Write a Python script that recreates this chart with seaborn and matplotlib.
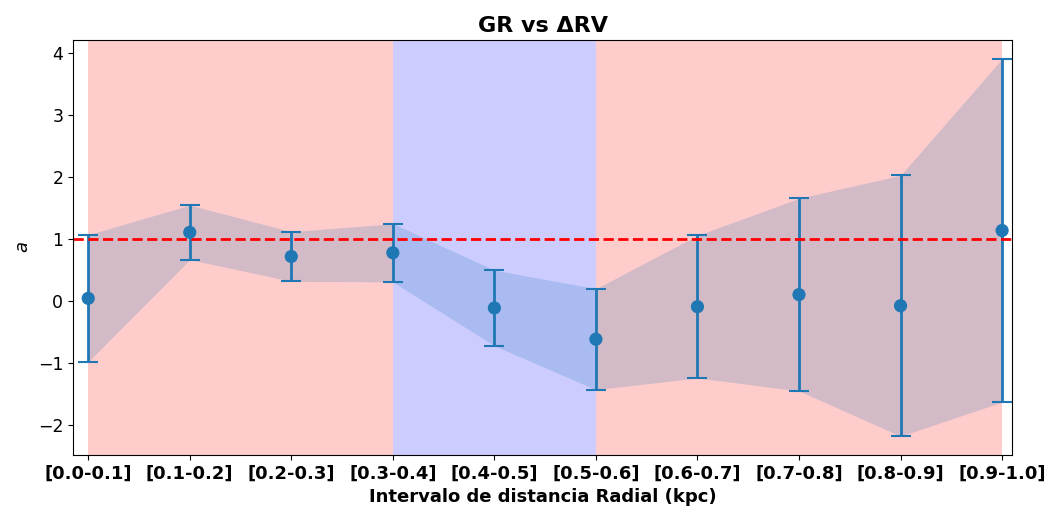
import numpy as np
import pandas as pd
import matplotlib
matplotlib.use('Agg')
import matplotlib.pyplot as plt
import seaborn as sns

intervals = ['[0.0-0.1]', '[0.1-0.2]', '[0.2-0.3]', '[0.3-0.4]', '[0.4-0.5]',
             '[0.5-0.6]', '[0.6-0.7]', '[0.7-0.8]', '[0.8-0.9]', '[0.9-1.0]']
a_vals = [0.045, 1.11, 0.72, 0.78, -0.11, -0.615, -0.09, 0.105, -0.075, 1.14]
a_err = [1.025, 0.44, 0.40, 0.47, 0.61, 0.815, 1.15, 1.555, 2.105, 2.77]

sns.set_style('ticks', {'axes.edgecolor': 'black', 'text.color': 'black',
                        'xtick.color': 'black', 'ytick.color': 'black',
                        'axes.labelcolor': 'black'})
plt.rcParams['font.family'] = ['DejaVu Sans']

df = pd.DataFrame({'pos': np.arange(len(intervals)), 'a': a_vals, 'err': a_err})
lo = df['a'] - df['err']
hi = df['a'] + df['err']

fig = plt.figure(figsize=(10.53, 5.13), dpi=100)
ax = fig.add_axes([0.0693, 0.113, 0.892, 0.809])

ax.axvspan(0, 3, color='red', alpha=0.2, lw=0)
ax.axvspan(3, 5, color='blue', alpha=0.2, lw=0)
ax.axvspan(5, 9, color='red', alpha=0.2, lw=0)

ax.fill_between(df['pos'], lo, hi, color='tab:blue', alpha=0.2, lw=0)
ax.errorbar(df['pos'], df['a'], yerr=df['err'], fmt='none', ecolor='tab:blue',
            elinewidth=2, capsize=7, capthick=1.5)
sns.scatterplot(data=df, x='pos', y='a', ax=ax, color='tab:blue', s=90,
                edgecolor='none', zorder=3)
ax.axhline(1, color='red', ls='--', lw=2)

ax.set_xlim(-0.15, 9.1)
ax.set_xticks(df['pos'])
ax.set_xticklabels(intervals, fontsize=13, fontweight='bold')
ax.tick_params(axis='y', labelsize=12.5)
ax.set_xlabel('Intervalo de distancia Radial (kpc)', fontsize=13, fontweight='bold')
ax.set_ylabel('$a$', fontsize=13)
ax.set_title('GR vs ΔRV', fontsize=16, fontweight='bold')

fig.savefig('out.png', dpi=100)
